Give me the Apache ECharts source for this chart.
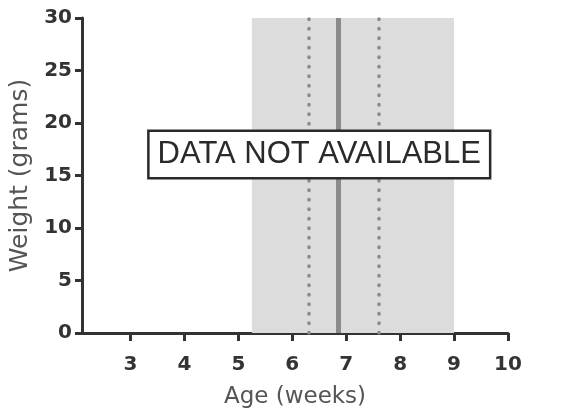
<!DOCTYPE html>
<html>
<head>
<meta charset="utf-8">
<script src="https://cdn.jsdelivr.net/npm/echarts@6/dist/echarts.min.js"></script>
<style>
    html, body { margin: 0; padding: 0; background: #fff; }
    #chart { width: 571px; height: 408px; }
</style>
</head>
<body>
<div id="chart"></div>
<script>
// age axis ticks (weeks) and weight ticks (grams)
var xTicks = [3, 4, 5, 6, 7, 8, 9, 10];
var xRange = [2.1, 10];
var yRange = [0, 30];
// shaded window and the reference lines inside it
var shadeRange = [5.25, 9.0];
var medianAge = [6.86];
var ciAges = [6.30, 7.60];
// note box
var notePos = [6.5, 17];
var noteText = "DATA NOT AVAILABLE";

var axisColor = "#333333";
var tickFont = "DejaVu Sans";

var chart = echarts.init(document.getElementById("chart"));

var option = {
    animation: false,
    grid: {
        left: 82,
        right: 63,
        top: 18,
        bottom: 75,
        outerBoundsMode: "none"
    },
    xAxis: {
        type: "value",
        min: xRange[0],
        max: xRange[1],
        name: "Age (weeks)",
        nameLocation: "middle",
        nameGap: 53,
        nameTextStyle: {color: "#555", fontSize: 23, fontFamily: tickFont},
        axisLine: {onZero: false, lineStyle: {color: axisColor, width: 3}},
        axisTick: {show: true, length: 8, lineStyle: {color: axisColor, width: 3}, customValues: xTicks},
        axisLabel: {
            customValues: xTicks,
            margin: 22,
            color: axisColor,
            fontSize: 20,
            fontWeight: "bold",
            fontFamily: tickFont
        },
        splitLine: {show: false}
    },
    yAxis: {
        type: "value",
        min: yRange[0],
        max: yRange[1],
        interval: 5,
        name: "Weight (grams)",
        nameLocation: "middle",
        nameGap: 48,
        nameTextStyle: {color: "#555", fontSize: 25, fontFamily: tickFont},
        axisLine: {show: true, lineStyle: {color: axisColor, width: 3}},
        axisTick: {show: true, length: 7, lineStyle: {color: axisColor, width: 3}},
        axisLabel: {
            margin: 10,
            color: axisColor,
            fontSize: 20,
            fontWeight: "bold",
            fontFamily: tickFont
        },
        splitLine: {show: false}
    },
    series: [
        {
            type: "line",
            data: [],
            silent: true,
            markArea: {
                silent: true,
                itemStyle: {color: "#dcdcdc"},
                data: [[{xAxis: shadeRange[0]}, {xAxis: shadeRange[1]}]]
            },
            markLine: {
                silent: true,
                symbol: "none",
                label: {show: false},
                data: ciAges.map(function (v) {
                    return {xAxis: v, lineStyle: {type: [0.5, 9], width: 3.5, color: "#8a8a8a", cap: "round"}};
                }).concat(medianAge.map(function (v) {
                    return {xAxis: v, lineStyle: {type: "solid", width: 5, color: "#8a8a8a"}};
                }))
            }
        },
        {
            type: "scatter",
            z: 10,
            silent: true,
            symbolSize: 1,
            itemStyle: {color: "rgba(0,0,0,0)"},
            data: [notePos],
            label: {
                show: true,
                position: "inside",
                formatter: noteText,
                fontFamily: "Liberation Sans",
                fontSize: 31,
                color: "#2a2a2a",
                opacity: 1,
                backgroundColor: "#fff",
                borderColor: "#2a2a2a",
                borderWidth: 2.5,
                padding: [8, 8, 6, 8]
            }
        }
    ]
};
chart.setOption(option);
</script>
</body>
</html>
